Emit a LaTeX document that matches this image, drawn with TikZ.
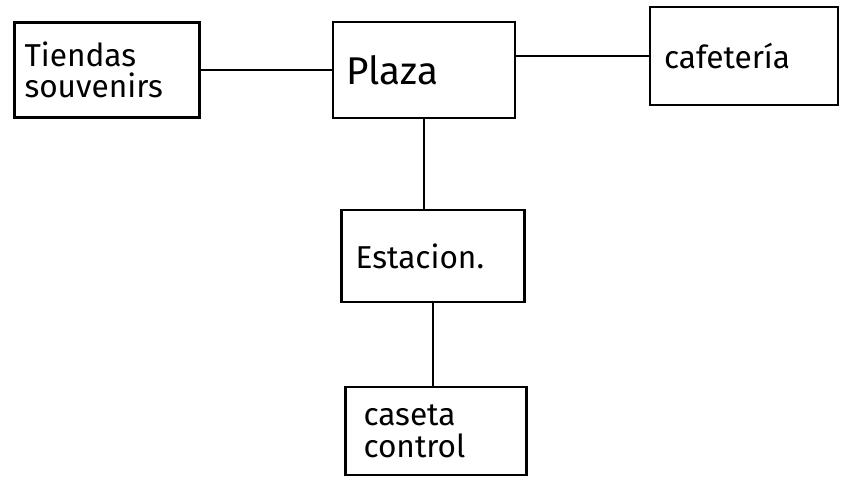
\documentclass[tikz,border=0pt]{standalone}
\usepackage{fontspec}
\setmainfont{Fira Sans}
\usepackage{tikz}
\usetikzlibrary{positioning}

\begin{document}
\begin{tikzpicture}[font=\fontsize{18}{18}\selectfont,
  box/.style={rectangle, draw=black, line width=1.3pt, fill=white,
              inner sep=0pt, align=left},
  con/.style={line width=1.1pt}]
  \useasboundingbox (0,0) rectangle (16.86,-9.6);
  \node[box, minimum width=3.7cm, minimum height=1.9cm, text width=3.3cm] (tiendas) at (2.14,-1.40) {Tiendas\\souvenirs};
  \node[box, minimum width=3.64cm, minimum height=1.92cm, text width=3.1cm,
        font=\fontsize{22}{22}\selectfont] (plaza) at (8.48,-1.40) {Plaza\\[4pt]};
  \node[box, minimum width=3.76cm, minimum height=1.96cm, text width=3.2cm] (cafe) at (14.88,-1.12) {cafetería\\[2pt]};
  \node[box, minimum width=3.66cm, minimum height=1.84cm, text width=3.1cm] (estacion) at (8.66,-5.12) {Estacion.};
  \node[box, minimum width=3.62cm, minimum height=1.76cm, text width=2.9cm] (caseta) at (8.72,-8.62) {caseta\\control};
  \draw[con] (tiendas) -- (plaza);
  \draw[con] (plaza.east |- cafe.west) -- (cafe.west);
  \draw[con] (plaza.south) -- (plaza.south |- estacion.north);
  \draw[con] (estacion.south) -- (estacion.south |- caseta.north);
\end{tikzpicture}
\end{document}
